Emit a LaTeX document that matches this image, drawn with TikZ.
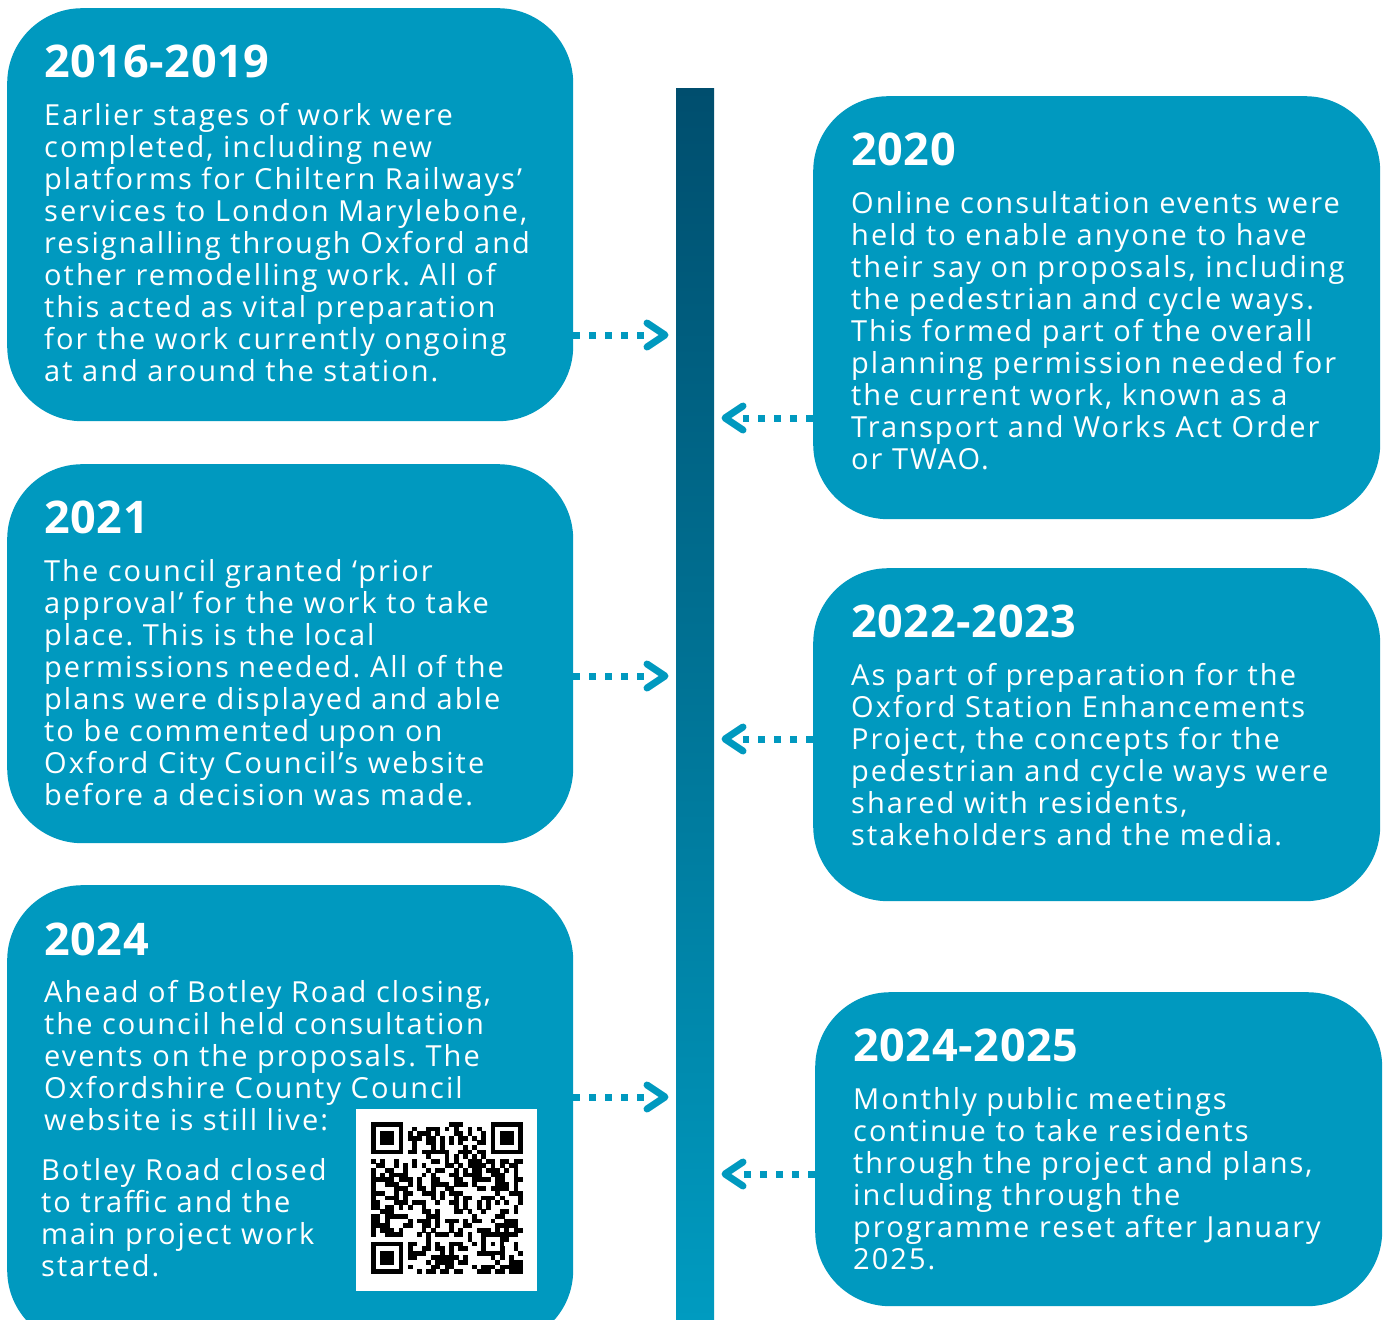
\documentclass[tikz,border=0pt]{standalone}
\usepackage{fontspec}
\setmainfont{Open Sans}[LetterSpace=7]
\newfontfamily\headfont{Open Sans}[LetterSpace=1.5]
\definecolor{boxc}{HTML}{0099BF}
\definecolor{bartop}{HTML}{004E6E}
\definecolor{barbot}{HTML}{009BC0}
\tikzset{
  tbox/.style={fill=boxc, rounded corners=75pt, inner sep=0pt, anchor=north west},
  head/.style={font=\headfont\bfseries\fontsize{45pt}{50pt}\selectfont, text=white, inner sep=0pt, anchor=base west},
  body/.style={font=\fontsize{29pt}{32pt}\selectfont, text=white, inner sep=0pt, anchor=base west},
  dotline/.style={draw=boxc, line width=7pt, dash pattern=on 7pt off 9pt},
  chev/.style={draw=boxc, line width=7pt, line cap=round, line join=round},
}
\newcommand{\bodytext}[1]{\parbox[t]{560pt}{\frenchspacing\raggedright #1}}
\begin{document}
\begin{tikzpicture}[x=1pt,y=-1pt]
\useasboundingbox (0,0) rectangle (1385,1320);
\fill[white] (0,0) rectangle (1385,1320);
% timeline bar
\shade[top color=bartop, bottom color=barbot] (676,88) rectangle (714,1320);
% arrow tips
\coordinate (r1) at (665,335);
\coordinate (r2) at (665,676);
\coordinate (r3) at (665,1097);
\coordinate (l1) at (725,418);
\coordinate (l2) at (725,739);
\coordinate (l3) at (725,1174);
% boxes
\node[tbox, minimum width=566pt, minimum height=413pt] (b1) at (7,8) {};
\node[tbox, minimum width=567pt, minimum height=423pt] (b2) at (813,96) {};
\node[tbox, minimum width=566pt, minimum height=379pt] (b3) at (7,464) {};
\node[tbox, minimum width=567pt, minimum height=333pt] (b4) at (813,568) {};
\node[tbox, minimum width=566pt, minimum height=460pt] (b5) at (7,885) {};
\node[tbox, minimum width=567pt, minimum height=314pt] (b6) at (815,992) {};
% connectors
\draw[dotline] (b1.east |- r1) -- ([xshift=-18pt]r1);
\draw[chev] (r1) ++(-18,-12) -- (r1) -- ++(-18,12);
\draw[dotline] (b3.east |- r2) -- ([xshift=-18pt]r2);
\draw[chev] (r2) ++(-18,-12) -- (r2) -- ++(-18,12);
\draw[dotline] (b5.east |- r3) -- ([xshift=-18pt]r3);
\draw[chev] (r3) ++(-18,-12) -- (r3) -- ++(-18,12);
\draw[dotline] (b2.west |- l1) -- ([xshift=18pt]l1);
\draw[chev] (l1) ++(18,-12) -- (l1) -- ++(18,12);
\draw[dotline] (b4.west |- l2) -- ([xshift=18pt]l2);
\draw[chev] (l2) ++(18,-12) -- (l2) -- ++(18,12);
\draw[dotline] (b6.west |- l3) -- ([xshift=18pt]l3);
\draw[chev] (l3) ++(18,-12) -- (l3) -- ++(18,12);
% texts
\node[head] (h1) at (44,77) {2016-2019};
\node[body] (t1) at (44,125) {\bodytext{Earlier stages of work were\\completed, including new\\platforms for Chiltern Railways’\\services to London Marylebone,\\resignalling through Oxford and\\other remodelling work. All of\\this acted as vital preparation\\for the work currently ongoing\\at and around the station.}};
\node[head] (h2) at (851,165) {2020};
\node[body] (t2) at (851,213) {\bodytext{Online consultation events were\\held to enable anyone to have\\their say on proposals, including\\the pedestrian and cycle ways.\\This formed part of the overall\\planning permission needed for\\the current work, known as a\\Transport and Works Act Order\\or TWAO.}};
\node[head] (h3) at (44,533) {2021};
\node[body] (t3) at (44,581) {\bodytext{The council granted ‘prior\\approval’ for the work to take\\place. This is the local\\permissions needed. All of the\\plans were displayed and able\\to be commented upon on\\Oxford City Council’s website\\before a decision was made.}};
\node[head] (h4) at (851,637) {2022-2023};
\node[body] (t4) at (851,685) {\bodytext{As part of preparation for the\\Oxford Station Enhancements\\Project, the concepts for the\\pedestrian and cycle ways were\\shared with residents,\\stakeholders and the media.}};
\node[head] (h5) at (44,955) {2024};
\node[body] (t5) at (44,1002) {\bodytext{Ahead of Botley Road closing,\\the council held consultation\\events on the proposals. The\\Oxfordshire County Council\\website is still live:}};
\node[body] (t5b) at (41,1180) {\bodytext{Botley Road closed\\to traffic and the\\main project work\\started.}};
\node[head] (h6) at (853,1061) {2024-2025};
\node[body] (t6) at (853,1109) {\bodytext{Monthly public meetings\\continue to take residents\\through the project and plans,\\including through the\\programme reset after January\\2025.}};
% QR code
\node[fill=white, inner sep=0pt, minimum width=181pt, minimum height=182pt, anchor=north west] (qr) at (356,1109) {};
\pgfmathsetseed{17}
\foreach \i in {0,...,32}{
  \foreach \j in {0,...,32}{
    \pgfmathrandominteger{\qb}{0}{9}
    \ifnum\qb<5 \fill[black] (371+4.6*\i,1122+4.6*\j) rectangle ++(4.7,4.7); \fi
  }
}
\foreach \fx/\fy in {0/0, 25/0, 0/25}{
  \fill[white] (371+4.6*\fx-0.01,1122+4.6*\fy) rectangle ++(36.8,36.8);
}
\foreach \fx/\fy in {0/0, 26/0, 0/26}{
  \fill[black] (371+4.6*\fx,1122+4.6*\fy) rectangle ++(32.2,32.2);
  \fill[white] (371+4.6*\fx+4.6,1122+4.6*\fy+4.6) rectangle ++(23,23);
  \fill[black] (371+4.6*\fx+9.2,1122+4.6*\fy+9.2) rectangle ++(13.8,13.8);
}
\fill[black] (371+4.6*24,1122+4.6*24) rectangle ++(23,23);
\fill[white] (371+4.6*25,1122+4.6*25) rectangle ++(13.8,13.8);
\fill[black] (371+4.6*26,1122+4.6*26) rectangle ++(4.6,4.6);
\end{tikzpicture}
\end{document}
